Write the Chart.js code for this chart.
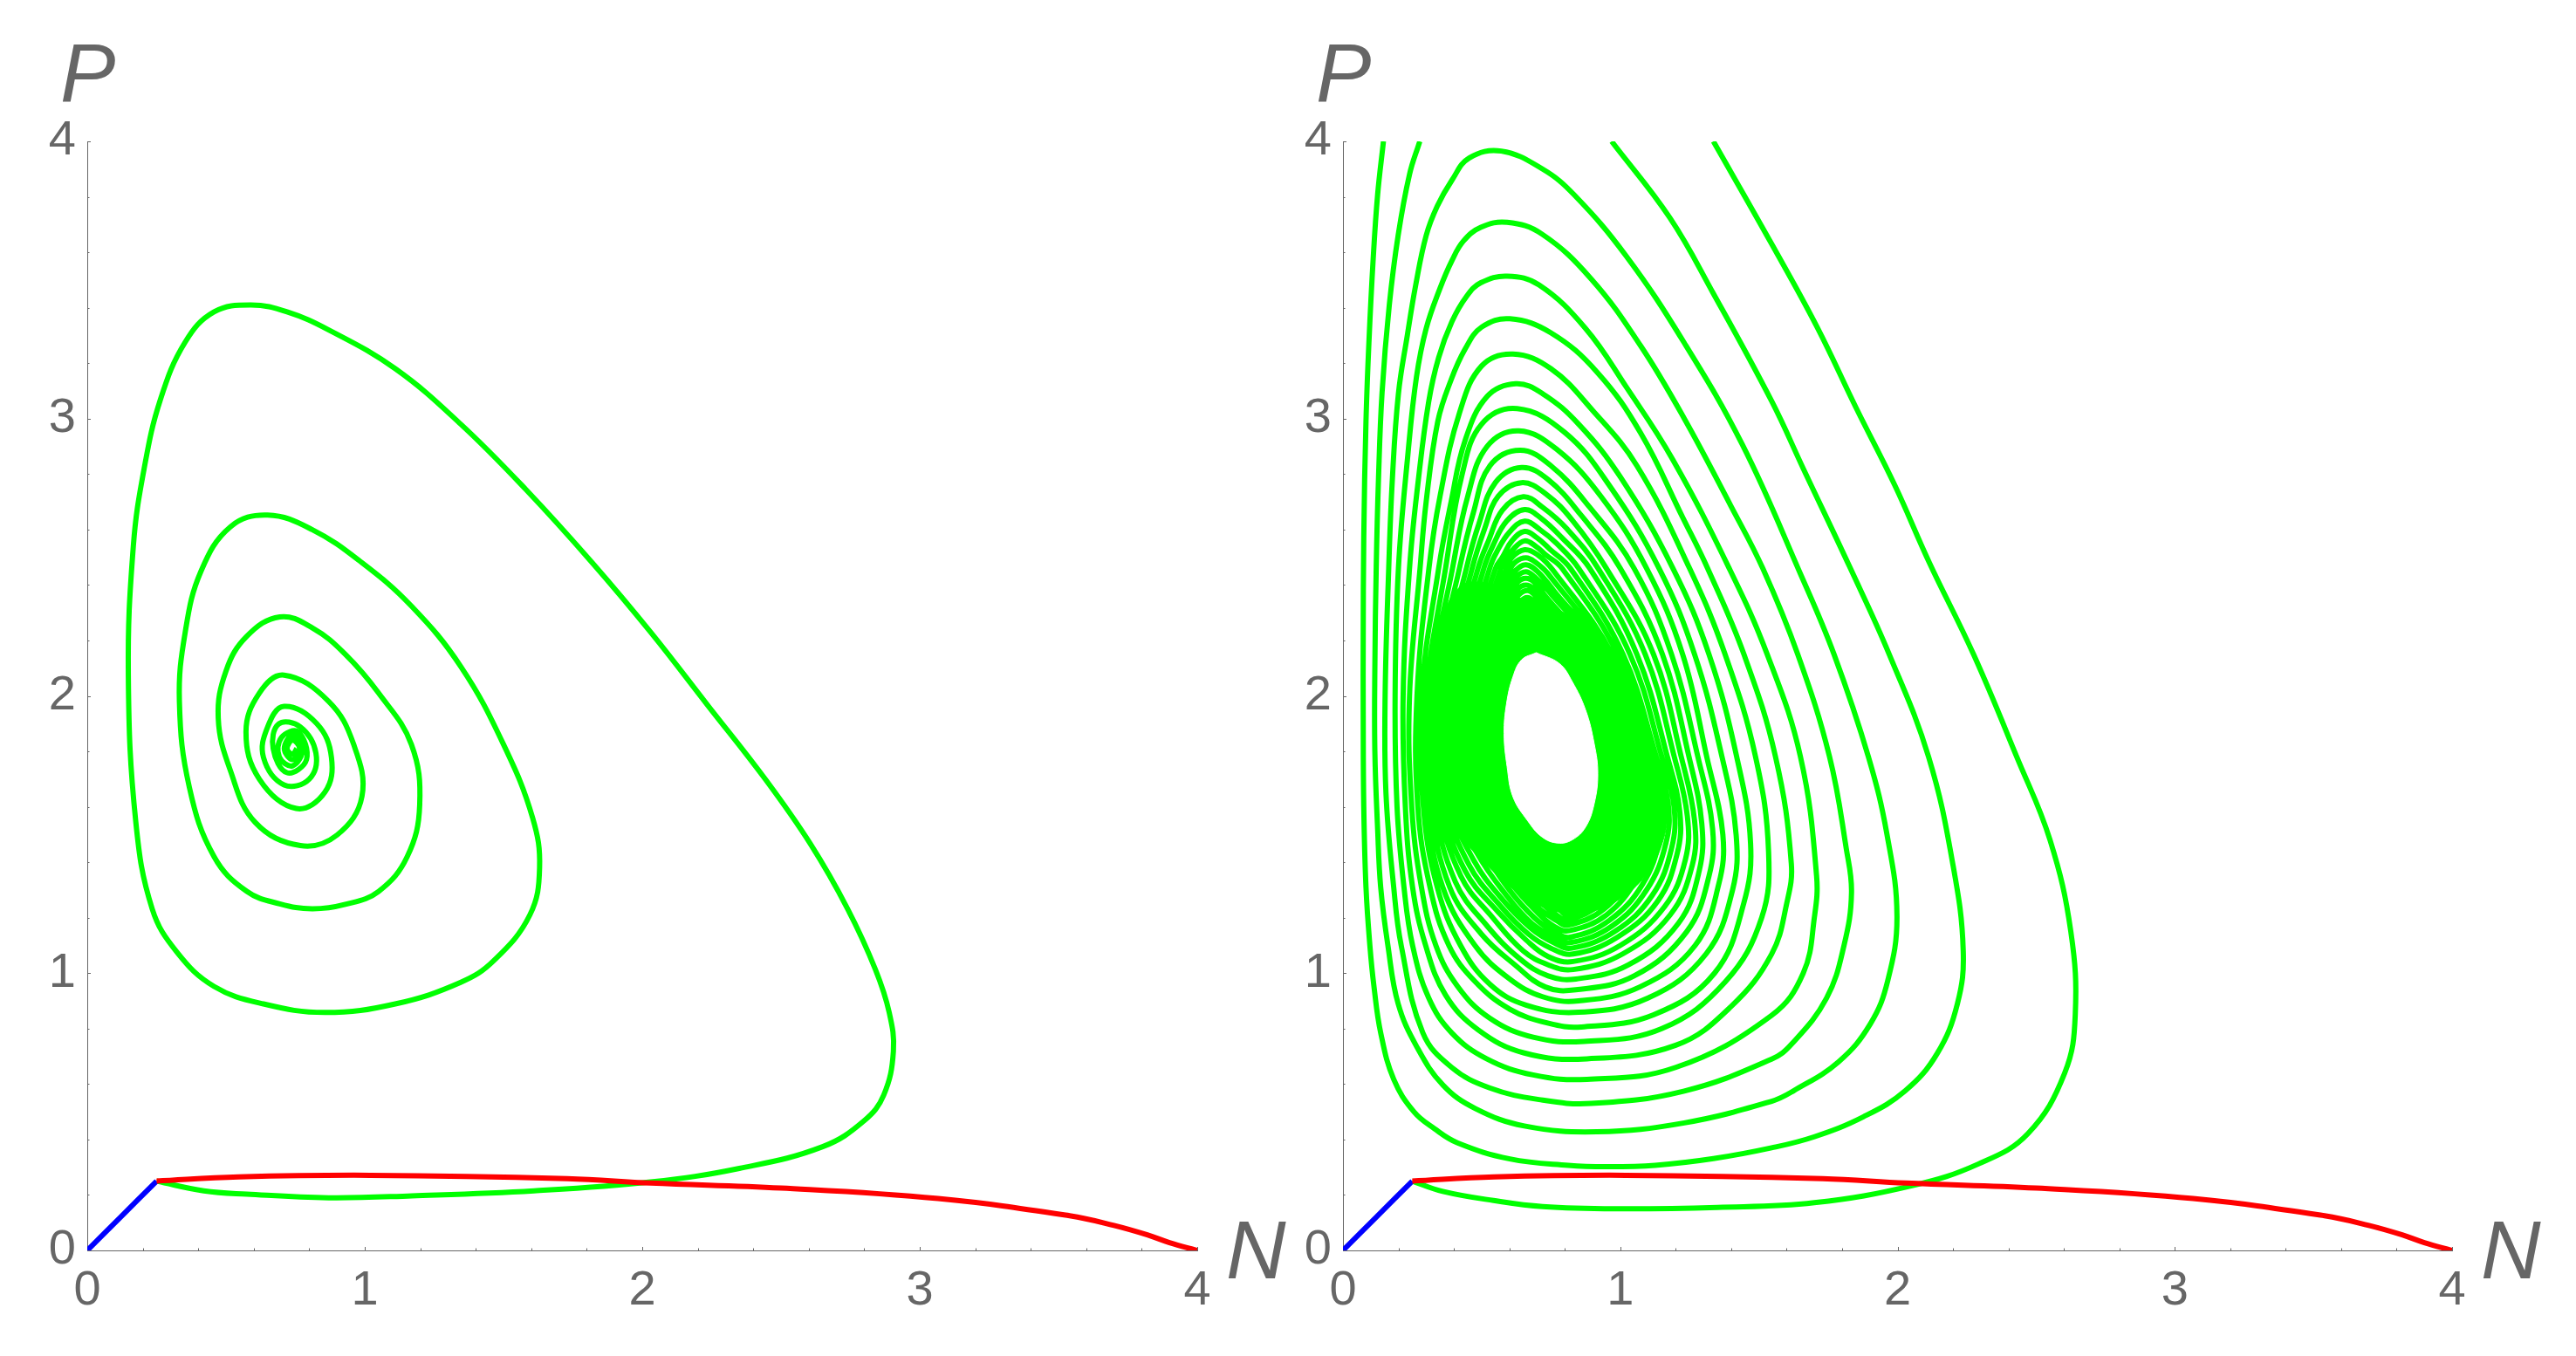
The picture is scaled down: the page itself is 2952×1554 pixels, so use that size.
<!DOCTYPE html>
<html>
<head>
<meta charset="utf-8">
<title>Phase plane</title>
<script src="https://cdn.jsdelivr.net/npm/chart.js@4"></script>
<style>
  html, body { margin: 0; padding: 0; background: #fff; overflow: hidden; }
  canvas { position: absolute; top: 0; }
  #left-plot { left: 0; }
  #right-plot { left: 1476px; }
</style>
</head>
<body>
<canvas id="left-plot" width="1476" height="1554"></canvas>
<canvas id="right-plot" width="1476" height="1554"></canvas>
<script>
// Axis text
const tickLabels = ['0', '1', '2', '3', '4'];
const xAxisName = 'N';
const yAxisName = 'P';

// [N, P] pairs

const bluePath = [[0, 0], [0.12, 0.12], [0.25, 0.25]];
const redPath = [[0.25, 0.25], [0.545, 0.265], [1.02, 0.271], [1.73, 0.259], [2.03, 0.243], [2.5, 0.225], [3.066, 0.187], [3.54, 0.125], [3.7, 0.09], [3.82, 0.056], [3.9, 0.028], [4, 0]];

// Left panel: one spiral
const leftSpiral = [[0.25, 0.25], [0.42, 0.215], [0.575, 0.203], [0.87, 0.19], [1.17, 0.197], [1.61, 0.215], [2.03, 0.247], [2.35, 0.296], [2.65, 0.374], [2.8, 0.468], [2.87, 0.56], [2.905, 0.718], [2.89, 0.858], [2.84, 1.014], [2.74, 1.232], [2.606, 1.466], [2.443, 1.7], [2.236, 1.966], [2.03, 2.23], [1.82, 2.48], [1.58, 2.745], [1.346, 2.98], [1.11, 3.18], [0.87, 3.32], [0.72, 3.385], [0.59, 3.41], [0.457, 3.385], [0.353, 3.276], [0.264, 3.07], [0.205, 2.82], [0.166, 2.54], [0.148, 2.075], [0.175, 1.545], [0.234, 1.232], [0.323, 1.076], [0.457, 0.952], [0.635, 0.889], [0.857, 0.858], [1.11, 0.889], [1.346, 0.967], [1.465, 1.045], [1.595, 1.21], [1.63, 1.38], [1.605, 1.56], [1.5, 1.825], [1.346, 2.106], [1.168, 2.324], [0.99, 2.48], [0.81, 2.6], [0.65, 2.652], [0.516, 2.61], [0.41, 2.45], [0.353, 2.23], [0.332, 1.98], [0.368, 1.67], [0.457, 1.42], [0.575, 1.295], [0.694, 1.25], [0.81, 1.232], [0.93, 1.248], [1.05, 1.295], [1.153, 1.42], [1.198, 1.607], [1.168, 1.825], [1.05, 2.01], [0.93, 2.15], [0.81, 2.246], [0.694, 2.285], [0.575, 2.215], [0.5, 2.09], [0.472, 1.92], [0.516, 1.73], [0.605, 1.544], [0.768, 1.46], [0.9, 1.498], [0.99, 1.638], [0.96, 1.825], [0.87, 1.98], [0.709, 2.075], [0.62, 2.01], [0.572, 1.87], [0.62, 1.7], [0.753, 1.594], [0.857, 1.654], [0.88, 1.778], [0.827, 1.9], [0.709, 1.962], [0.65, 1.888], [0.635, 1.778], [0.709, 1.679], [0.8, 1.7], [0.824, 1.794], [0.768, 1.888], [0.69, 1.899], [0.67, 1.81], [0.72, 1.723], [0.79, 1.77], [0.76, 1.87], [0.7, 1.85], [0.692, 1.78], [0.74, 1.748], [0.777, 1.81], [0.74, 1.858], [0.71, 1.81], [0.74, 1.77], [0.765, 1.81], [0.74, 1.84], [0.72, 1.81], [0.74, 1.79], [0.755, 1.81]];

// Right panel: the two arcs that leave through the top, then the turns inward
const rightArc1 = [[0.25, 0.25], [0.36, 0.213], [0.543, 0.18], [0.72, 0.158], [0.98, 0.15], [1.35, 0.155], [1.7, 0.172], [2.055, 0.234], [2.292, 0.312], [2.47, 0.421], [2.603, 0.64], [2.641, 0.85], [2.625, 1.15], [2.55, 1.48], [2.43, 1.78], [2.274, 2.15], [2.115, 2.48], [1.99, 2.76], [1.85, 3.04], [1.71, 3.33], [1.546, 3.63], [1.336, 4]];
const rightArc2 = [[0.146, 4], [0.125, 3.808], [0.109, 3.577], [0.094, 3.284], [0.083, 2.99], [0.075, 2.57], [0.073, 2.2], [0.073, 1.94], [0.075, 1.6], [0.083, 1.31], [0.097, 1.1], [0.112, 0.95], [0.136, 0.785], [0.183, 0.617], [0.256, 0.5], [0.33, 0.439], [0.413, 0.388], [0.602, 0.33], [0.812, 0.307], [0.948, 0.302], [1.126, 0.307], [1.336, 0.331], [1.546, 0.37], [1.7, 0.41], [1.877, 0.482], [2.027, 0.575], [2.143, 0.71], [2.216, 0.89], [2.237, 1.08], [2.2, 1.39], [2.112, 1.78], [1.97, 2.15], [1.83, 2.46], [1.66, 2.82], [1.546, 3.063], [1.336, 3.451], [1.179, 3.724], [0.969, 4]];
const rightTurn3 = [[0.277, 4], [0.24, 3.881], [0.199, 3.661], [0.167, 3.409], [0.141, 3.094], [0.128, 2.78], [0.12, 2.466], [0.115, 2.1], [0.115, 1.8], [0.125, 1.52], [0.136, 1.31], [0.162, 1.1], [0.199, 0.89], [0.267, 0.733], [0.361, 0.596], [0.477, 0.512], [0.654, 0.449], [0.915, 0.428], [1.231, 0.46], [1.546, 0.538], [1.624, 0.575], [1.787, 0.68], [1.902, 0.817], [1.965, 0.974], [1.998, 1.205], [1.962, 1.5], [1.895, 1.78], [1.771, 2.15], [1.65, 2.44], [1.441, 2.905], [1.231, 3.273], [1.021, 3.587], [0.833, 3.808], [0.72, 3.9], [0.571, 3.965], [0.455, 3.94], [0.393, 3.86], [0.34, 3.766], [0.3, 3.66], [0.262, 3.48], [0.232, 3.3], [0.2, 3.09], [0.178, 2.78], [0.165, 2.46], [0.152, 2], [0.155, 1.65], [0.183, 1.31], [0.21, 1.1], [0.288, 0.785], [0.392, 0.66], [0.529, 0.586], [0.707, 0.544]];
const rightTurn4 = [[0.895, 0.53], [1.231, 0.575], [1.546, 0.69], [1.618, 0.744], [1.744, 0.91], [1.807, 1.1], [1.834, 1.29], [1.815, 1.45], [1.755, 1.78], [1.64, 2.15], [1.514, 2.46], [1.399, 2.685], [1.231, 3], [1.074, 3.262], [0.896, 3.503], [0.717, 3.666], [0.592, 3.708], [0.497, 3.69], [0.434, 3.64], [0.393, 3.57], [0.35, 3.47], [0.3, 3.325], [0.265, 3.15], [0.235, 2.88], [0.2, 2.46], [0.188, 2], [0.195, 1.6], [0.22, 1.31], [0.251, 1.1], [0.309, 0.911], [0.392, 0.785], [0.518, 0.691], [0.686, 0.633]];
const rightTurn5 = [[0.88, 0.617], [1.2, 0.66], [1.546, 0.848], [1.66, 1], [1.7, 1.2], [1.708, 1.352], [1.65, 1.78], [1.53, 2.15], [1.393, 2.46], [1.189, 2.853], [1.021, 3.115], [0.875, 3.325], [0.707, 3.482], [0.592, 3.514], [0.497, 3.49], [0.445, 3.44], [0.393, 3.35], [0.345, 3.22], [0.309, 3.06], [0.272, 2.78], [0.24, 2.46], [0.217, 2], [0.225, 1.6], [0.251, 1.31], [0.298, 1.1], [0.37, 0.921], [0.487, 0.796], [0.654, 0.712]];
const rightTurn6 = [[0.88, 0.691], [1.2, 0.74], [1.4, 0.88], [1.546, 1.069], [1.6, 1.25], [1.617, 1.394], [1.56, 1.78], [1.446, 2.15], [1.315, 2.46], [1.225, 2.644], [1.074, 2.947], [0.917, 3.167], [0.749, 3.31], [0.602, 3.36], [0.5, 3.33], [0.44, 3.25], [0.39, 3.14], [0.342, 2.99], [0.3, 2.7], [0.278, 2.46], [0.24, 2], [0.248, 1.6], [0.283, 1.31], [0.335, 1.1], [0.413, 0.953], [0.529, 0.838], [0.686, 0.769]];
const rightTurn7 = [[0.87, 0.754], [1.15, 0.8], [1.38, 0.97], [1.51, 1.2], [1.535, 1.436], [1.488, 1.78], [1.378, 2.15], [1.25, 2.46], [1.06, 2.83], [0.9, 3.03], [0.75, 3.18], [0.613, 3.233], [0.5, 3.19], [0.42, 3.02], [0.35, 2.72], [0.31, 2.46], [0.267, 2], [0.27, 1.6], [0.314, 1.31], [0.382, 1.1], [0.476, 0.97], [0.602, 0.87], [0.738, 0.82]];
const rightTurn8 = [[0.86, 0.806], [1.12, 0.85], [1.34, 1], [1.445, 1.25], [1.47, 1.467], [1.42, 1.78], [1.32, 2.15], [1.19, 2.46], [1, 2.79], [0.85, 2.98], [0.72, 3.09], [0.623, 3.126], [0.52, 3.08], [0.44, 2.92], [0.39, 2.7], [0.345, 2.46], [0.283, 2], [0.29, 1.6], [0.34, 1.31], [0.424, 1.1], [0.53, 0.96], [0.66, 0.885]];
const rightTurn9 = [[0.85, 0.859], [1.1, 0.91], [1.31, 1.07], [1.405, 1.3], [1.418, 1.498], [1.367, 1.78], [1.268, 2.15], [1.14, 2.46], [0.96, 2.76], [0.8, 2.95], [0.628, 3.036], [0.5, 2.98], [0.43, 2.8], [0.37, 2.46], [0.3, 2], [0.305, 1.6], [0.36, 1.31], [0.476, 1.1], [0.6, 0.98], [0.72, 0.915]];
const rightTurn10 = [[0.85, 0.9], [1.07, 0.95], [1.27, 1.1], [1.355, 1.32], [1.37, 1.5], [1.312, 1.78], [1.225, 2.15], [1.095, 2.46], [0.93, 2.72], [0.77, 2.89], [0.634, 2.956], [0.52, 2.9], [0.45, 2.72], [0.395, 2.46], [0.312, 2], [0.32, 1.6], [0.385, 1.31], [0.5, 1.14], [0.62, 1.03], [0.73, 0.95]];
const rightTurn11 = [[0.84, 0.94], [1.05, 0.99], [1.24, 1.15], [1.32, 1.35], [1.333, 1.52], [1.28, 1.78], [1.185, 2.15], [1.05, 2.46], [0.89, 2.68], [0.75, 2.83], [0.639, 2.886], [0.53, 2.83], [0.47, 2.66], [0.42, 2.46], [0.325, 2], [0.335, 1.6], [0.405, 1.33], [0.52, 1.17], [0.64, 1.05], [0.74, 0.99]];
const rightTurn12 = [[0.84, 0.979], [1.03, 1.03], [1.21, 1.18], [1.285, 1.37], [1.294, 1.54], [1.248, 1.78], [1.152, 2.15], [1, 2.46], [0.86, 2.65], [0.74, 2.78], [0.644, 2.824], [0.55, 2.77], [0.49, 2.62], [0.445, 2.46], [0.34, 2], [0.35, 1.6], [0.425, 1.35], [0.54, 1.2], [0.65, 1.08], [0.74, 1.03]];
const rightTurn13 = [[0.83, 1.013], [1.01, 1.07], [1.18, 1.21], [1.26, 1.39], [1.268, 1.55], [1.22, 1.78], [1.12, 2.15], [0.95, 2.46], [0.83, 2.63], [0.73, 2.73], [0.644, 2.769], [0.56, 2.72], [0.51, 2.6], [0.466, 2.46], [0.355, 2], [0.365, 1.6], [0.44, 1.37], [0.56, 1.22], [0.66, 1.12], [0.74, 1.06]];
const rightTurn14 = [[0.83, 1.042], [1, 1.1], [1.16, 1.24], [1.235, 1.41], [1.242, 1.566], [1.195, 1.78], [1.09, 2.15], [0.92, 2.46], [0.81, 2.6], [0.72, 2.68], [0.65, 2.718], [0.575, 2.67], [0.525, 2.56], [0.487, 2.46], [0.37, 2], [0.38, 1.6], [0.455, 1.39], [0.57, 1.24], [0.67, 1.14], [0.75, 1.09]];
const rightTurn15 = [[0.83, 1.069], [0.99, 1.13], [1.135, 1.26], [1.205, 1.43], [1.215, 1.58], [1.17, 1.78], [1.06, 2.15], [0.89, 2.46], [0.79, 2.57], [0.715, 2.64], [0.655, 2.672], [0.59, 2.63], [0.54, 2.54], [0.508, 2.46], [0.385, 2], [0.395, 1.6], [0.47, 1.41], [0.58, 1.26], [0.68, 1.16], [0.76, 1.11]];
const rightTurn16 = [[0.825, 1.09], [0.98, 1.15], [1.115, 1.28], [1.185, 1.45], [1.194, 1.6], [1.15, 1.78], [1.035, 2.15], [0.85, 2.46], [0.77, 2.55], [0.71, 2.6], [0.655, 2.63], [0.6, 2.59], [0.555, 2.52], [0.529, 2.46], [0.4, 2], [0.41, 1.6], [0.485, 1.43], [0.59, 1.28], [0.68, 1.18], [0.76, 1.13]];
const rightTurn17 = [[0.82, 1.11], [0.97, 1.17], [1.095, 1.3], [1.165, 1.47], [1.173, 1.61], [1.13, 1.78], [1.01, 2.15], [0.82, 2.46], [0.745, 2.53], [0.7, 2.57], [0.655, 2.593], [0.61, 2.56], [0.575, 2.5], [0.55, 2.46], [0.415, 2], [0.425, 1.6], [0.5, 1.45], [0.6, 1.3], [0.69, 1.2], [0.76, 1.15]];
const rightTurn18 = [[0.82, 1.13], [0.96, 1.19], [1.08, 1.32], [1.145, 1.49], [1.153, 1.62], [1.115, 1.78], [0.99, 2.15], [0.79, 2.46], [0.73, 2.51], [0.695, 2.54], [0.655, 2.559], [0.615, 2.53], [0.585, 2.49], [0.57, 2.46], [0.43, 2], [0.44, 1.6], [0.515, 1.47], [0.61, 1.32], [0.7, 1.22], [0.76, 1.17]];
const rightTurn19 = [[0.815, 1.153], [0.95, 1.21], [1.06, 1.34], [1.125, 1.5], [1.14, 1.63], [1.1, 1.78], [0.97, 2.15], [0.76, 2.45], [0.7, 2.51], [0.655, 2.527], [0.61, 2.5], [0.59, 2.46], [0.445, 2], [0.455, 1.6], [0.53, 1.49], [0.62, 1.34], [0.7, 1.24], [0.77, 1.19]];
const rightTurn20 = [[0.81, 1.173], [0.94, 1.23], [1.045, 1.36], [1.11, 1.51], [1.125, 1.64], [1.085, 1.78], [0.95, 2.15], [0.74, 2.44], [0.69, 2.485], [0.66, 2.498], [0.625, 2.485], [0.6, 2.45], [0.46, 2], [0.47, 1.62], [0.545, 1.5], [0.63, 1.36], [0.71, 1.26], [0.77, 1.21]];
const rightTurn21 = [[0.81, 1.192], [0.93, 1.25], [1.03, 1.38], [1.095, 1.52], [1.11, 1.65], [1.07, 1.78], [0.94, 2.15], [0.76, 2.38], [0.7, 2.45], [0.66, 2.473], [0.625, 2.455], [0.59, 2.41], [0.475, 2], [0.485, 1.63], [0.56, 1.5], [0.64, 1.37], [0.72, 1.27], [0.78, 1.23]];
const rightTurn22 = [[0.81, 1.21], [0.92, 1.27], [1.015, 1.4], [1.08, 1.53], [1.095, 1.65], [1.055, 1.78], [0.92, 2.15], [0.74, 2.38], [0.69, 2.43], [0.66, 2.448], [0.625, 2.43], [0.59, 2.38], [0.49, 2], [0.5, 1.64], [0.57, 1.52], [0.65, 1.39], [0.73, 1.29], [0.78, 1.25]];
const rightTurn23 = [[0.81, 1.23], [0.9, 1.28], [0.99, 1.42], [1.05, 1.55], [1.08, 1.66], [1.04, 1.78], [0.9, 2.15], [0.73, 2.36], [0.69, 2.41], [0.66, 2.424], [0.63, 2.41], [0.59, 2.35], [0.5, 2]];
const rightTurn24 = [[0.52, 1.65], [0.6, 1.5], [0.8, 1.3], [1.03, 1.6], [0.89, 2.12], [0.73, 2.34], [0.69, 2.385], [0.66, 2.4], [0.63, 2.385], [0.6, 2.33], [0.51, 2]];
const rightTurn25 = [[0.53, 1.65], [0.62, 1.5], [0.8, 1.32], [1.02, 1.6], [0.88, 2.1], [0.73, 2.32], [0.69, 2.365], [0.665, 2.38], [0.635, 2.365], [0.6, 2.31], [0.52, 2]];
const rightTurn26 = [[0.54, 1.65], [0.63, 1.5], [0.8, 1.34], [1, 1.6], [0.87, 2.08], [0.73, 2.3], [0.69, 2.34], [0.665, 2.355], [0.64, 2.34], [0.6, 2.28], [0.53, 2]];

// Where the turns run together into solid green, and the white hole they leave
const rightSolidBand = [[0.675, 2.346], [0.801, 2.298], [0.906, 2.214], [1.011, 2.069], [1.084, 1.901], [1.147, 1.732], [1.168, 1.611], [1.158, 1.491], [1.095, 1.358], [0.99, 1.262], [0.885, 1.22], [0.78, 1.22], [0.655, 1.274], [0.539, 1.37], [0.434, 1.479], [0.34, 1.587], [0.298, 1.732], [0.293, 1.876], [0.309, 2.093], [0.35, 2.262], [0.424, 2.395], [0.518, 2.406], [0.56, 2.37], [0.675, 2.346]];
const rightHole = [[0.697, 2.156], [0.78, 2.117], [0.827, 2.051], [0.875, 1.949], [0.906, 1.828], [0.919, 1.72], [0.906, 1.611], [0.875, 1.527], [0.827, 1.481], [0.775, 1.469], [0.718, 1.491], [0.665, 1.551], [0.613, 1.636], [0.592, 1.744], [0.581, 1.864], [0.59, 1.973], [0.613, 2.069], [0.644, 2.13], [0.697, 2.156]];

const GREEN = '#00ff00';
const RED = '#ff0000';
const BLUE = '#0000ff';
const AXIS_COLOR = '#666666';
const FONT_FAMILY = '"Liberation Sans", Arial, sans-serif';

function toPoints(pairs) {
    return pairs.map(p => ({ x: p[0], y: p[1] }));
}

function curve(pairs, color, order) {
    return {
        data: toPoints(pairs),
        borderColor: color,
        backgroundColor: color,
        borderWidth: 6,
        tension: 0.4,
        pointRadius: 0,
        fill: false,
        showLine: true,
        order: order
    };
}

function blob(pairs, color, order) {
    return {
        data: toPoints(pairs),
        borderColor: color,
        backgroundColor: color,
        borderWidth: 1,
        tension: 0.4,
        pointRadius: 0,
        fill: 'shape',
        showLine: true,
        order: order
    };
}

// Mathematica-style ticks point into the plot, and longer on whole numbers
const inwardTicks = {
    id: 'inwardTicks',
    beforeDatasetsDraw(chart) {
        const ctx = chart.ctx;
        const x = chart.scales.x;
        const y = chart.scales.y;
        const isMajor = v => Math.abs(v - Math.round(v)) < 1e-6;
        ctx.save();
        ctx.strokeStyle = AXIS_COLOR;
        ctx.lineWidth = 1;
        ctx.beginPath();
        x.ticks.forEach(t => {
            const px = Math.round(x.getPixelForValue(t.value)) + 0.5;
            ctx.moveTo(px, y.bottom);
            ctx.lineTo(px, y.bottom - (isMajor(t.value) ? 4 : 2.5));
        });
        y.ticks.forEach(t => {
            const py = Math.round(y.getPixelForValue(t.value)) + 0.5;
            ctx.moveTo(x.left, py);
            ctx.lineTo(x.left + (isMajor(t.value) ? 4 : 2.5), py);
        });
        ctx.stroke();
        ctx.restore();
    }
};

const axisNames = {
    id: 'axisNames',
    afterDraw(chart) {
        const ctx = chart.ctx;
        ctx.save();
        ctx.fillStyle = AXIS_COLOR;
        ctx.font = 'italic 95px ' + FONT_FAMILY;
        ctx.textAlign = 'left';
        ctx.textBaseline = 'alphabetic';
        ctx.fillText(yAxisName, chart.scales.x.left - 31, chart.scales.y.top - 46);
        ctx.fillText(xAxisName, chart.scales.x.right + 33, chart.scales.y.bottom + 32);
        ctx.restore();
    }
};

function axisOptions(size, isX) {
    return {
        type: 'linear',
        min: 0,
        max: 4,
        grid: { drawOnChartArea: false, drawTicks: false },
        border: { display: true, color: AXIS_COLOR, width: 1 },
        ticks: {
            stepSize: 0.2,
            autoSkip: false,
            maxRotation: 0,
            padding: 13,
            color: AXIS_COLOR,
            font: { family: FONT_FAMILY, size: 56 },
            callback: v => Math.abs(v - Math.round(v)) < 1e-6 ? tickLabels[Math.round(v)] : ''
        },
        afterFit(scale) {
            if (isX) {
                scale.height = size;
            } else {
                scale.width = size;
            }
        }
    };
}

function makeChart(id, datasets, yAxisWidth, rightPadding) {
    return new Chart(document.getElementById(id), {
        type: 'scatter',
        data: { datasets: datasets },
        options: {
            responsive: false,
            animation: false,
            devicePixelRatio: 1,
            layout: { padding: { top: 162, right: rightPadding, bottom: 0, left: 0 } },
            scales: {
                x: axisOptions(121, true),
                y: axisOptions(yAxisWidth, false)
            },
            plugins: {
                legend: { display: false },
                tooltip: { enabled: false }
            }
        },
        plugins: [inwardTicks, axisNames]
    });
}

const rightSpiral = [].concat(
    rightTurn3, rightTurn4, rightTurn5, rightTurn6, rightTurn7, rightTurn8,
    rightTurn9, rightTurn10, rightTurn11, rightTurn12, rightTurn13, rightTurn14,
    rightTurn15, rightTurn16, rightTurn17, rightTurn18, rightTurn19, rightTurn20,
    rightTurn21, rightTurn22, rightTurn23, rightTurn24, rightTurn25, rightTurn26
);

makeChart('left-plot', [
    curve(redPath, RED, 0),
    curve(bluePath, BLUE, 1),
    curve(leftSpiral, GREEN, 2)
], 100, 104);

makeChart('right-plot', [
    curve(redPath, RED, 0),
    curve(bluePath, BLUE, 1),
    blob(rightHole, '#ffffff', 1),
    curve(rightArc1, GREEN, 2),
    curve(rightArc2, GREEN, 2),
    curve(rightSpiral, GREEN, 2),
    blob(rightSolidBand, GREEN, 3)
], 63, 142);
</script>
</body>
</html>
